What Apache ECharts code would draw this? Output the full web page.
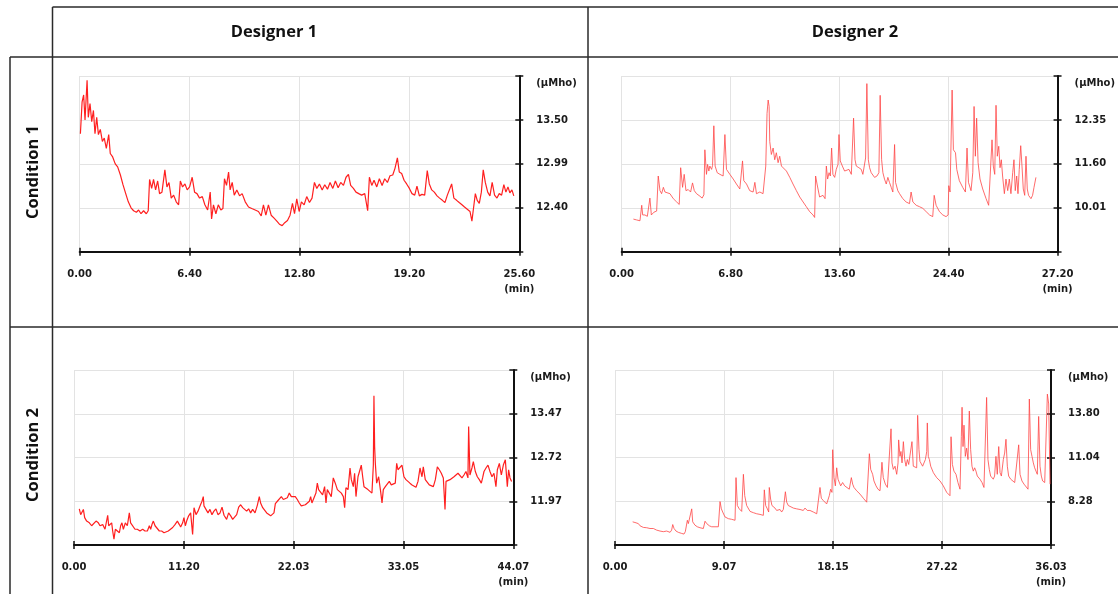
<!DOCTYPE html>
<html>
<head>
<meta charset="utf-8">
<title>Conductance traces by designer and condition</title>
<script src="https://cdn.jsdelivr.net/npm/echarts@6/dist/echarts.min.js"></script>
<style>
  html, body { margin: 0; padding: 0; background: #fff; }
  #chart { width: 1118px; height: 594px; }
</style>
</head>
<body>
<div id="chart"></div>
<script>
// column / row headings
const designers = ['Designer 1', 'Designer 2'];
const conditions = ['Condition 1', 'Condition 2'];

// tick labels as printed on each panel (x in min, y in µMho)
const d1c1XLabels = ['0.00', '6.40', '12.80', '19.20', '25.60'];
const d2c1XLabels = ['0.00', '6.80', '13.60', '24.40', '27.20'];
const d1c2XLabels = ['0.00', '11.20', '22.03', '33.05', '44.07'];
const d2c2XLabels = ['0.00', '9.07', '18.15', '27.22', '36.03'];
const d1c1YTicks = [12.40, 12.99, 13.50];
const d2c1YTicks = [10.01, 11.60, 12.35];
const d1c2YTicks = [11.97, 12.72, 13.47];
const d2c2YTicks = [8.28, 11.04, 13.80];

// traces: [time (min), conductance (µMho)]
const d1c1 = [[0.04,13.34],[0.14,13.71],[0.23,13.79],[0.31,13.50],[0.43,13.96],[0.50,13.53],[0.60,13.69],[0.70,13.48],[0.80,13.61],[0.89,13.34],[0.99,13.53],[1.09,13.33],[1.20,13.39],[1.32,13.25],[1.43,13.29],[1.55,13.17],[1.69,13.33],[1.78,13.11],[1.92,13.07],[2.07,12.99],[2.21,12.95],[2.37,12.84],[2.52,12.71],[2.68,12.59],[2.83,12.48],[2.99,12.40],[3.14,12.36],[3.30,12.34],[3.43,12.37],[3.57,12.32],[3.72,12.36],[3.88,12.32],[3.99,12.36],[4.07,12.78],[4.19,12.66],[4.30,12.78],[4.42,12.64],[4.54,12.76],[4.65,12.59],[4.79,12.61],[4.96,12.91],[5.08,12.68],[5.20,12.74],[5.33,12.53],[5.47,12.57],[5.62,12.48],[5.76,12.44],[5.86,12.76],[5.99,12.68],[6.13,12.72],[6.26,12.64],[6.40,12.68],[6.55,12.81],[6.69,12.61],[6.83,12.59],[6.98,12.53],[7.14,12.55],[7.29,12.44],[7.45,12.37],[7.60,12.61],[7.68,12.25],[7.79,12.44],[7.93,12.32],[8.07,12.44],[8.22,12.37],[8.34,12.39],[8.43,12.79],[8.55,12.70],[8.67,12.88],[8.76,12.64],[8.88,12.74],[9.00,12.57],[9.15,12.64],[9.31,12.56],[9.46,12.59],[9.64,12.48],[9.83,12.41],[10.02,12.39],[10.22,12.37],[10.41,12.35],[10.57,12.29],[10.70,12.44],[10.84,12.30],[10.99,12.44],[11.15,12.30],[11.32,12.26],[11.48,12.22],[11.63,12.18],[11.79,12.16],[11.94,12.20],[12.10,12.23],[12.25,12.30],[12.39,12.46],[12.51,12.32],[12.64,12.52],[12.78,12.35],[12.91,12.48],[13.07,12.44],[13.22,12.55],[13.38,12.47],[13.53,12.53],[13.67,12.74],[13.81,12.66],[13.96,12.72],[14.12,12.64],[14.27,12.71],[14.43,12.65],[14.58,12.74],[14.74,12.66],[14.89,12.76],[15.05,12.67],[15.20,12.74],[15.36,12.70],[15.51,12.81],[15.65,12.85],[15.78,12.70],[15.94,12.66],[16.09,12.61],[16.25,12.59],[16.42,12.57],[16.60,12.59],[16.71,12.57],[16.77,12.36],[16.87,12.81],[17.01,12.70],[17.14,12.77],[17.30,12.68],[17.45,12.79],[17.61,12.70],[17.76,12.79],[17.92,12.74],[18.07,12.83],[18.23,12.84],[18.36,12.93],[18.50,13.06],[18.61,12.88],[18.75,12.86],[18.89,12.77],[19.04,12.72],[19.20,12.66],[19.35,12.59],[19.51,12.57],[19.64,12.69],[19.78,12.56],[19.93,12.58],[20.09,12.57],[20.24,12.90],[20.36,12.72],[20.50,12.64],[20.65,12.61],[20.81,12.56],[20.96,12.53],[21.12,12.50],[21.27,12.47],[21.41,12.57],[21.52,12.55],[21.66,12.72],[21.79,12.53],[21.95,12.50],[22.10,12.47],[22.26,12.44],[22.41,12.41],[22.57,12.38],[22.73,12.35],[22.84,12.22],[22.92,12.37],[23.04,12.59],[23.15,12.50],[23.27,12.46],[23.39,12.61],[23.50,12.91],[23.62,12.74],[23.76,12.61],[23.89,12.56],[24.02,12.74],[24.16,12.57],[24.30,12.53],[24.43,12.59],[24.57,12.57],[24.70,12.71],[24.82,12.61],[24.94,12.68],[25.05,12.60],[25.17,12.64],[25.28,12.56]];

const d2c1 = [[0.73,9.60],[0.93,9.57],[1.14,9.54],[1.25,10.10],[1.31,9.75],[1.45,9.75],[1.60,9.70],[1.76,10.36],[1.85,9.75],[2.01,9.85],[2.18,9.89],[2.28,11.16],[2.39,10.63],[2.49,10.52],[2.60,10.75],[2.70,10.58],[2.80,10.63],[3.01,10.52],[3.22,10.34],[3.43,10.22],[3.59,10.13],[3.68,11.46],[3.80,10.75],[3.90,11.22],[4.01,10.63],[4.15,10.67],[4.30,10.58],[4.42,10.91],[4.53,10.63],[4.67,10.52],[4.88,10.43],[5.02,10.36],[5.13,10.48],[5.19,11.84],[5.29,11.22],[5.36,11.58],[5.44,11.34],[5.50,11.52],[5.61,11.40],[5.67,11.54],[5.75,12.25],[5.83,11.52],[5.96,11.28],[6.13,11.22],[6.33,11.16],[6.44,12.10],[6.54,11.40],[6.75,11.22],[6.96,11.05],[7.16,10.87],[7.37,10.69],[7.54,11.65],[7.62,10.99],[7.79,10.87],[7.99,10.63],[8.20,10.58],[8.31,10.93],[8.41,10.52],[8.62,10.58],[8.82,10.52],[8.93,10.46],[8.99,11.52],[9.07,12.46],[9.14,12.69],[9.20,12.58],[9.24,11.98],[9.34,11.76],[9.45,11.87],[9.55,11.67],[9.65,11.79],[9.76,11.62],[9.86,11.73],[9.97,11.52],[10.07,11.46],[10.28,11.34],[10.49,11.11],[10.69,10.87],[10.90,10.63],[11.11,10.40],[11.32,10.22],[11.52,10.05],[11.73,9.87],[11.94,9.75],[12.04,9.66],[12.10,11.16],[12.19,10.87],[12.35,10.40],[12.56,10.46],[12.69,10.34],[12.77,11.52],[12.85,11.05],[12.94,11.28],[13.02,11.16],[13.10,11.87],[13.18,11.22],[13.29,11.11],[13.39,11.40],[13.50,11.58],[13.56,12.10],[13.64,11.65],[13.77,11.52],[13.91,11.34],[14.02,11.28],[14.18,11.40],[14.33,11.22],[14.47,12.38],[14.56,11.67],[14.64,11.52],[14.80,11.46],[14.95,11.40],[15.05,11.22],[15.22,11.70],[15.30,12.97],[15.39,11.67],[15.47,11.46],[15.57,11.28],[15.68,11.22],[15.78,11.11],[15.93,11.16],[16.05,11.28],[16.13,12.77],[16.22,11.67],[16.30,11.28],[16.40,11.05],[16.51,10.87],[16.61,11.11],[16.71,10.93],[16.82,10.75],[16.92,10.58],[17.03,11.93],[17.09,10.93],[17.23,10.63],[17.34,10.52],[17.54,10.34],[17.75,10.22],[17.96,10.16],[18.06,10.58],[18.17,10.22],[18.38,10.10],[18.58,10.05],[18.79,9.99],[19.00,9.87],[19.21,9.75],[19.41,9.69],[19.50,10.46],[19.62,10.10],[19.83,9.87],[20.04,9.75],[20.24,9.69],[20.37,9.75],[20.41,10.81],[20.49,10.58],[20.62,12.86],[20.70,11.84],[20.83,11.79],[20.91,11.40],[21.07,10.99],[21.28,10.75],[21.45,10.58],[21.55,11.87],[21.64,10.93],[21.80,10.63],[21.91,11.28],[21.99,12.58],[22.07,11.73],[22.15,12.38],[22.24,11.62],[22.36,11.05],[22.53,10.69],[22.74,10.34],[22.90,10.10],[23.01,10.10],[23.11,12.01],[23.19,11.52],[23.28,11.22],[23.36,12.60],[23.44,11.73],[23.53,11.90],[23.61,11.46],[23.69,11.67],[23.77,11.16],[23.88,10.52],[23.98,11.05],[24.09,10.63],[24.19,11.05],[24.29,10.52],[24.40,11.28],[24.48,11.67],[24.56,10.63],[24.65,11.16],[24.73,10.52],[24.81,11.40],[24.90,11.91],[24.98,11.52],[25.06,10.69],[25.15,10.46],[25.23,11.73],[25.31,10.69],[25.39,10.46],[25.54,10.34],[25.64,10.46],[25.73,10.75],[25.85,11.11]];

const d1c2 = [[0.53,11.84],[0.67,11.74],[0.80,11.72],[0.94,11.83],[1.07,11.69],[1.27,11.63],[1.54,11.60],[1.77,11.55],[1.94,11.57],[2.21,11.63],[2.44,11.60],[2.61,11.55],[2.88,11.57],[3.11,11.49],[3.28,11.46],[3.38,11.73],[3.48,11.55],[3.61,11.52],[3.78,11.60],[3.88,11.46],[4.01,11.32],[4.15,11.49],[4.35,11.46],[4.55,11.43],[4.68,11.55],[4.81,11.60],[4.95,11.49],[5.15,11.60],[5.35,11.55],[5.55,11.77],[5.68,11.60],[5.88,11.57],[6.12,11.49],[6.35,11.49],[6.62,11.46],[6.89,11.49],[7.12,11.46],[7.36,11.46],[7.56,11.55],[7.69,11.49],[7.82,11.57],[7.96,11.63],[8.13,11.55],[8.29,11.52],[8.56,11.46],[8.79,11.46],[9.03,11.43],[9.23,11.43],[9.46,11.46],[9.63,11.49],[9.90,11.52],[10.13,11.57],[10.37,11.63],[10.57,11.57],[10.70,11.53],[10.90,11.60],[11.03,11.69],[11.17,11.55],[11.30,11.63],[11.50,11.72],[11.70,11.77],[11.90,11.40],[12.04,11.86],[12.24,11.74],[12.44,11.80],[12.64,11.89],[12.84,11.97],[12.97,12.05],[13.04,11.89],[13.24,11.83],[13.44,11.77],[13.64,11.83],[13.84,11.74],[14.04,11.80],[14.24,11.84],[14.44,11.74],[14.65,11.77],[14.85,11.87],[15.05,11.73],[15.31,11.66],[15.51,11.77],[15.72,11.72],[15.92,11.66],[16.12,11.69],[16.32,11.74],[16.52,11.87],[16.72,11.91],[16.92,11.86],[17.12,11.89],[17.32,11.80],[17.52,11.84],[17.72,11.77],[17.92,11.83],[18.16,11.77],[18.39,11.90],[18.59,12.05],[18.72,11.94],[18.93,11.86],[19.13,11.83],[19.33,11.77],[19.53,11.74],[19.73,11.72],[19.93,11.69],[20.06,11.77],[20.20,11.93],[20.40,11.97],[20.60,11.94],[20.80,12.05],[21.00,12.00],[21.20,11.97],[21.40,12.03],[21.60,12.11],[21.80,12.05],[22.00,12.03],[22.20,12.05],[22.40,12.00],[22.60,11.94],[22.80,11.89],[23.00,11.86],[23.21,11.91],[23.41,11.89],[23.61,11.97],[23.74,12.05],[23.87,11.94],[24.07,11.97],[24.27,12.11],[24.41,12.28],[24.54,12.17],[24.74,12.20],[24.94,12.08],[25.14,12.22],[25.28,11.94],[25.41,12.17],[25.61,12.11],[25.81,12.05],[26.01,12.37],[26.21,12.28],[26.42,12.17],[26.62,12.20],[26.82,12.11],[27.02,12.05],[27.15,11.86],[27.28,12.20],[27.49,12.17],[27.69,12.54],[27.82,12.34],[28.02,12.22],[28.15,12.45],[28.29,12.05],[28.49,12.39],[28.69,12.51],[28.82,12.59],[28.96,12.39],[29.09,12.22],[29.29,12.20],[29.49,12.17],[29.69,12.14],[29.89,12.11],[30.03,12.59],[30.09,13.78],[30.16,12.90],[30.23,12.62],[30.36,12.28],[30.56,12.39],[30.76,12.14],[30.90,11.94],[31.03,12.17],[31.23,12.22],[31.43,12.22],[31.63,12.31],[31.83,12.25],[32.03,12.22],[32.23,12.28],[32.37,12.62],[32.50,12.51],[32.70,12.51],[32.90,12.59],[33.10,12.39],[33.30,12.34],[33.50,12.31],[33.70,12.28],[33.91,12.25],[34.11,12.22],[34.31,12.21],[34.51,12.31],[34.71,12.54],[34.91,12.39],[35.04,12.56],[35.24,12.34],[35.44,12.31],[35.64,12.25],[35.84,12.28],[36.05,12.22],[36.25,12.34],[36.45,12.56],[36.65,12.51],[36.85,12.45],[37.05,12.37],[37.22,11.83],[37.32,12.31],[37.52,12.28],[37.72,12.34],[37.92,12.31],[38.12,12.39],[38.32,12.37],[38.52,12.45],[38.72,12.42],[38.92,12.37],[39.12,12.42],[39.32,12.48],[39.52,12.37],[39.59,13.25],[39.72,12.42],[39.92,12.54],[40.06,12.65],[40.26,12.48],[40.46,12.39],[40.66,12.34],[40.86,12.28],[40.99,12.37],[41.13,12.48],[41.33,12.54],[41.53,12.59],[41.73,12.48],[41.93,12.39],[42.13,12.45],[42.33,12.22],[42.47,12.51],[42.67,12.62],[42.87,12.42],[43.07,12.59],[43.27,12.68],[43.47,12.22],[43.60,12.51],[43.74,12.37],[43.90,12.31]];

const d2c2 = [[1.46,6.98],[1.65,6.94],[1.79,6.98],[1.93,6.87],[2.07,6.73],[2.34,6.63],[2.62,6.61],[2.89,6.56],[3.17,6.56],[3.44,6.46],[3.72,6.40],[3.99,6.36],[4.27,6.40],[4.55,6.32],[4.68,6.46],[4.77,6.81],[4.88,6.56],[5.04,6.40],[5.23,6.32],[5.51,6.25],[5.70,6.21],[5.81,6.36],[5.98,7.08],[6.06,6.87],[6.20,6.77],[6.34,7.80],[6.42,6.98],[6.61,6.77],[6.80,6.67],[7.02,6.61],[7.30,6.56],[7.44,7.02],[7.58,6.87],[7.80,6.73],[7.99,6.67],[8.26,6.67],[8.54,6.67],[8.62,6.77],[8.68,8.26],[8.79,7.80],[8.90,7.60],[9.09,7.29],[9.37,7.18],[9.64,7.14],[9.92,7.08],[10.00,9.77],[10.11,8.01],[10.27,7.80],[10.47,7.64],[10.61,9.98],[10.72,8.63],[10.88,8.01],[11.16,7.64],[11.43,7.56],[11.71,7.49],[11.98,7.45],[12.26,7.39],[12.34,9.00],[12.45,8.01],[12.59,7.80],[12.70,7.60],[12.75,9.15],[12.86,8.42],[12.97,8.01],[13.08,7.91],[13.22,7.85],[13.36,7.70],[13.50,7.60],[13.64,7.76],[13.77,7.60],[13.91,7.76],[14.08,8.88],[14.19,8.22],[14.32,8.01],[14.46,7.91],[14.74,7.85],[15.01,7.80],[15.29,7.76],[15.56,7.70],[15.70,7.85],[15.89,7.70],[16.11,7.70],[16.39,7.60],[16.67,7.49],[16.83,7.43],[16.94,9.15],[17.05,8.47],[17.22,8.32],[17.35,8.22],[17.49,8.11],[17.63,8.01],[17.71,8.63],[17.82,9.04],[17.93,8.84],[17.99,11.53],[18.10,9.77],[18.21,9.25],[18.32,10.39],[18.43,9.67],[18.54,9.56],[18.65,9.25],[18.81,9.46],[18.98,9.25],[19.14,9.15],[19.36,9.04],[19.53,9.77],[19.64,9.36],[19.75,9.15],[19.97,8.94],[20.25,8.73],[20.52,8.47],[20.80,8.22],[20.93,8.11],[21.02,11.28],[21.13,10.29],[21.29,9.98],[21.40,9.56],[21.57,9.25],[21.73,9.04],[21.90,8.94],[22.06,10.74],[22.17,9.77],[22.34,9.36],[22.51,9.15],[22.67,9.09],[22.81,12.85],[22.89,10.70],[23.00,10.29],[23.14,10.49],[23.28,9.98],[23.39,10.70],[23.44,12.15],[23.55,11.11],[23.63,11.42],[23.72,10.70],[23.83,12.04],[23.94,10.91],[24.05,10.49],[24.16,10.91],[24.27,10.60],[24.43,10.70],[24.54,12.04],[24.65,10.49],[24.76,10.60],[24.93,10.39],[25.01,13.70],[25.12,11.53],[25.20,10.80],[25.31,10.70],[25.42,10.49],[25.54,10.60],[25.65,10.91],[25.76,11.42],[25.81,13.22],[25.89,11.11],[25.98,10.91],[26.09,10.49],[26.31,10.08],[26.58,9.77],[26.86,9.56],[27.13,9.25],[27.41,8.84],[27.68,8.63],[27.77,12.35],[27.88,10.60],[28.01,10.18],[28.18,9.98],[28.34,9.46],[28.51,9.04],[28.62,12.35],[28.68,14.21],[28.76,11.73],[28.84,13.08],[28.95,11.11],[29.06,11.63],[29.17,10.91],[29.28,13.97],[29.39,11.53],[29.50,10.49],[29.61,10.18],[29.72,10.39],[29.83,10.18],[29.94,9.87],[30.05,9.98],[30.16,9.67],[30.33,9.46],[30.49,9.15],[30.60,9.04],[30.71,14.83],[30.82,10.91],[30.93,10.29],[31.04,9.87],[31.15,9.77],[31.26,9.67],[31.37,9.87],[31.48,11.11],[31.59,9.98],[31.71,11.73],[31.82,10.08],[31.93,9.87],[32.09,10.91],[32.20,11.32],[32.31,12.19],[32.42,10.49],[32.53,9.87],[32.70,9.67],[32.86,9.56],[33.03,9.46],[33.19,9.36],[33.36,11.84],[33.47,9.98],[33.63,9.56],[33.80,9.36],[33.96,9.25],[34.13,9.04],[34.24,14.73],[34.35,11.53],[34.46,11.11],[34.57,10.70],[34.68,10.39],[34.79,10.18],[34.90,9.98],[35.01,13.63],[35.12,10.49],[35.23,9.87],[35.34,9.56],[35.51,9.46],[35.62,9.36],[35.73,15.04],[35.84,14.42],[35.95,9.36]];

// panel definitions: which trace goes where
const panels = [
  { data: d1c1, xLabels: d1c1XLabels, yTicks: d1c1YTicks, rect: [79.7, 76, 439.6, 175.7], color: '#ff1f1f', width: 1.2 },
  { data: d2c1, xLabels: d2c1XLabels, yTicks: d2c1YTicks, rect: [621.7, 76, 436.6, 175.7], color: '#ff4545', width: 0.8 },
  { data: d1c2, xLabels: d1c2XLabels, yTicks: d1c2YTicks, rect: [74, 370, 439.3, 175], color: '#ff1f1f', width: 1.2 },
  { data: d2c2, xLabels: d2c2XLabels, yTicks: d2c2YTicks, rect: [615, 370, 436, 175], color: '#ff4545', width: 0.8 }
];

// y ticks are not evenly spaced in value, so map µMho onto tick slots 1..3
function toSlot(v, t) {
  if (v < t[1]) return 1 + (v - t[0]) / (t[1] - t[0]);
  return 2 + (v - t[1]) / (t[2] - t[1]);
}

const labelFont = { color: '#1a1a1a', fontFamily: 'DejaVu Sans', fontWeight: 'bold', fontSize: 10 };
const axisBlack = { show: true, onZero: false, lineStyle: { color: '#111', width: 2 } };
const tickStyle = { color: '#111', width: 1.5 };

const grids = [], xAxes = [], yAxes = [], series = [];
panels.forEach((p, i) => {
  const xMax = parseFloat(p.xLabels[4]);
  const xInt = xMax / 4;
  grids.push({ left: p.rect[0], top: p.rect[1], width: p.rect[2], height: p.rect[3] });

  xAxes.push({
    gridIndex: i, type: 'value', position: 'bottom', min: 0, max: xMax, interval: xInt,
    axisLine: axisBlack,
    axisTick: { show: true, length: 4, lineStyle: tickStyle },
    splitLine: { show: true, lineStyle: { color: '#e3e3e3', width: 1 } },
    axisLabel: Object.assign({
      margin: 15, lineHeight: 15, showMinLabel: true, showMaxLabel: true,
      formatter: v => {
        const k = Math.round(v / xInt);
        return k === 4 ? p.xLabels[4] + '\n(min)' : p.xLabels[k];
      }
    }, labelFont)
  });
  // inner half of the crossing ticks
  xAxes.push({
    gridIndex: i, type: 'value', position: 'bottom', min: 0, max: xMax, interval: xInt,
    axisLine: { show: false, onZero: false },
    axisTick: { show: true, inside: true, length: 4, lineStyle: tickStyle },
    axisLabel: { show: false }, splitLine: { show: false }
  });

  yAxes.push({
    gridIndex: i, type: 'value', position: 'right', min: 0, max: 4, interval: 1,
    axisLine: axisBlack,
    axisTick: { show: true, length: 4, lineStyle: tickStyle },
    splitLine: { show: true, lineStyle: { color: '#e3e3e3', width: 1 } },
    axisLabel: Object.assign({
      margin: 17,
      formatter: v => {
        const k = Math.round(v);
        if (k === 4) return '{u|(μMho)}';
        if (k === 0) return '';
        return p.yTicks[k - 1].toFixed(2);
      },
      rich: { u: Object.assign({ padding: [14, 0, 0, 0] }, labelFont) }
    }, labelFont)
  });
  yAxes.push({
    gridIndex: i, type: 'value', position: 'right', min: 0, max: 4, interval: 1,
    axisLine: { show: false, onZero: false },
    axisTick: { show: true, inside: true, length: 4, lineStyle: tickStyle },
    axisLabel: { show: false }, splitLine: { show: false }
  });

  series.push({
    type: 'line', xAxisIndex: i * 2, yAxisIndex: i * 2,
    data: p.data.map(d => [d[0], toSlot(d[1], p.yTicks)]),
    showSymbol: false, symbol: 'none', silent: true,
    lineStyle: { color: p.color, width: p.width }
  });
});

// table frame
const rule = { stroke: '#2a2a2a', lineWidth: 1.5 };
const line = (x1, y1, x2, y2) => ({ type: 'line', silent: true, shape: { x1, y1, x2, y2 }, style: rule });
const headFont = { fontFamily: 'Open Sans', fontWeight: 'bold', fontSize: 16.5, fill: '#111', align: 'center', verticalAlign: 'middle' };

const graphic = [
  line(52.5, 7, 1118, 7),
  line(10, 57, 1118, 57),
  line(10, 327, 1118, 327),
  line(10, 57, 10, 594),
  line(52.5, 7, 52.5, 594),
  line(588, 7, 588, 594),
  { type: 'text', x: 274, y: 32, style: Object.assign({ text: designers[0] }, headFont) },
  { type: 'text', x: 855, y: 32, style: Object.assign({ text: designers[1] }, headFont) },
  { type: 'text', x: 33, y: 172, rotation: Math.PI / 2, style: Object.assign({ text: conditions[0] }, headFont) },
  { type: 'text', x: 33, y: 455, rotation: Math.PI / 2, style: Object.assign({ text: conditions[1] }, headFont) }
];

const chart = echarts.init(document.getElementById('chart'));
chart.setOption({
  animation: false,
  backgroundColor: '#fff',
  grid: grids,
  xAxis: xAxes,
  yAxis: yAxes,
  series: series,
  graphic: graphic
});
</script>
</body>
</html>
